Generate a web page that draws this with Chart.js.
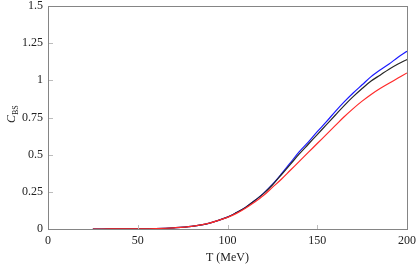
<!DOCTYPE html>
<html>
<head>
<meta charset="utf-8">
<script src="https://cdn.jsdelivr.net/npm/chart.js@4/dist/chart.umd.min.js"></script>
<style>
  html, body { margin: 0; padding: 0; background: #fff; }
</style>
</head>
<body>
<canvas id="myChart" width="417" height="267"></canvas>
<script>
// temperature grid (MeV)
const temps = [25, 30, 40, 50, 60, 70, 80, 90, 100, 105, 110, 115, 120, 125, 130, 135, 140, 145, 150, 155, 160, 165, 170, 175, 180, 185, 190, 195, 200]

// C_BS curves
const blueVals  = [0, 0, 0.0005, 0.001, 0.003, 0.008, 0.018, 0.04, 0.08, 0.11, 0.145, 0.19, 0.24, 0.30, 0.37, 0.445, 0.52, 0.585, 0.655, 0.72, 0.79, 0.855, 0.915, 0.97, 1.025, 1.07, 1.11, 1.155, 1.195]
const blackVals = [0, 0, 0.0005, 0.001, 0.003, 0.008, 0.018, 0.04, 0.08, 0.11, 0.145, 0.19, 0.238, 0.296, 0.365, 0.435, 0.505, 0.57, 0.635, 0.70, 0.765, 0.83, 0.89, 0.945, 0.995, 1.035, 1.075, 1.11, 1.14]
const redVals   = [0, 0, 0.0005, 0.001, 0.003, 0.008, 0.018, 0.04, 0.078, 0.105, 0.14, 0.18, 0.225, 0.28, 0.335, 0.395, 0.455, 0.515, 0.575, 0.635, 0.695, 0.755, 0.81, 0.86, 0.905, 0.945, 0.98, 1.015, 1.05]

const xTicks = [0, 50, 100, 150, 200]
const yTicks = [0, 0.25, 0.5, 0.75, 1, 1.25, 1.5]
const yTickLabels = ['0', '0.25', '0.5', '0.75', '1', '1.25', '1.5']

const FONT = 'Liberation Serif'
const FRAME = '#858585'

const toPts = vals => temps.map((t, i) => ({ x: t, y: vals[i] }))

// box frame, inward tick marks, y title with subscript
const titlePlugin = {
    id: 'titlePlugin',
    afterDraw(chart) {
        const { ctx, chartArea: a, scales } = chart
        ctx.save()
        ctx.strokeStyle = FRAME
        ctx.lineWidth = 1
        ctx.strokeRect(Math.round(a.left) + 0.5, Math.round(a.top) + 0.5,
            Math.round(a.right - a.left), Math.round(a.bottom - a.top))

        ctx.strokeStyle = '#bcbcbc'
        ctx.beginPath()
        xTicks.slice(1, -1).forEach(v => {
            const px = Math.round(scales.x.getPixelForValue(v)) + 0.5
            ctx.moveTo(px, a.bottom)
            ctx.lineTo(px, a.bottom - 4)
        })
        yTicks.slice(1, -1).forEach(v => {
            const py = Math.round(scales.y.getPixelForValue(v)) + 0.5
            ctx.moveTo(a.left + 1, py)
            ctx.lineTo(a.left + 5, py)
        })
        ctx.stroke()

        ctx.fillStyle = '#222'
        ctx.translate(13, 123)
        ctx.rotate(-Math.PI / 2)
        ctx.font = 'italic 12px ' + FONT
        ctx.fillText('C', 0, 2)
        ctx.font = '8px ' + FONT
        ctx.fillText('BS', 8, 5)
        ctx.restore()
    }
}

const chartData = {
    datasets: [
        { data: toPts(redVals), borderColor: '#ff2a2a', borderWidth: 1.2 },
        { data: toPts(blackVals), borderColor: '#262626', borderWidth: 1.2 },
        { data: toPts(blueVals), borderColor: '#1a1aff', borderWidth: 1.2 }
    ]
}

const hiddenTicks = { display: false }
const noGrid = { display: true, drawOnChartArea: false, drawTicks: false, color: FRAME }

new Chart(document.getElementById('myChart'), {
    type: 'line',
    data: chartData,
    options: {
        responsive: false,
        animation: false,
        layout: { padding: { top: 6, right: 10, left: 0, bottom: 0 } },
        elements: {
            point: { radius: 0 },
            line: { tension: 0.35, fill: false }
        },
        plugins: {
            legend: { display: false },
            tooltip: { enabled: false }
        },
        scales: {
            x: {
                type: 'linear',
                min: 0,
                max: 200,
                afterFit: s => { s.height = 38; s.paddingRight = 0 },
                afterBuildTicks: s => { s.ticks = xTicks.map(v => ({ value: v })) },
                grid: noGrid,
                border: { display: true, color: FRAME, width: 1 },
                ticks: {
                    color: '#222',
                    padding: 5,
                    maxRotation: 0,
                    font: { family: FONT, size: 12 }
                },
                title: {
                    display: true,
                    text: 'T (MeV)',
                    color: '#222',
                    font: { family: FONT, size: 12 },
                    padding: { top: 0, bottom: 2 }
                }
            },
            x2: {
                type: 'linear',
                position: 'top',
                min: 0,
                max: 200,
                afterFit: s => { s.height = 0; s.paddingRight = 0; s.paddingLeft = 0 },
                grid: noGrid,
                border: { display: true, color: FRAME, width: 1 },
                ticks: hiddenTicks
            },
            y: {
                min: 0,
                max: 1.5,
                afterFit: s => { s.width = 48; s.paddingTop = 0 },
                afterBuildTicks: s => { s.ticks = yTicks.map(v => ({ value: v })) },
                grid: noGrid,
                border: { display: true, color: FRAME, width: 1 },
                ticks: {
                    color: '#222',
                    padding: 5,
                    font: { family: FONT, size: 12 },
                    callback: v => yTickLabels[yTicks.indexOf(v)]
                }
            },
            y2: {
                position: 'right',
                min: 0,
                max: 1.5,
                afterFit: s => { s.width = 0; s.paddingTop = 0; s.paddingBottom = 0 },
                grid: noGrid,
                border: { display: true, color: FRAME, width: 1 },
                ticks: hiddenTicks
            }
        }
    },
    plugins: [titlePlugin]
})
</script>
</body>
</html>
